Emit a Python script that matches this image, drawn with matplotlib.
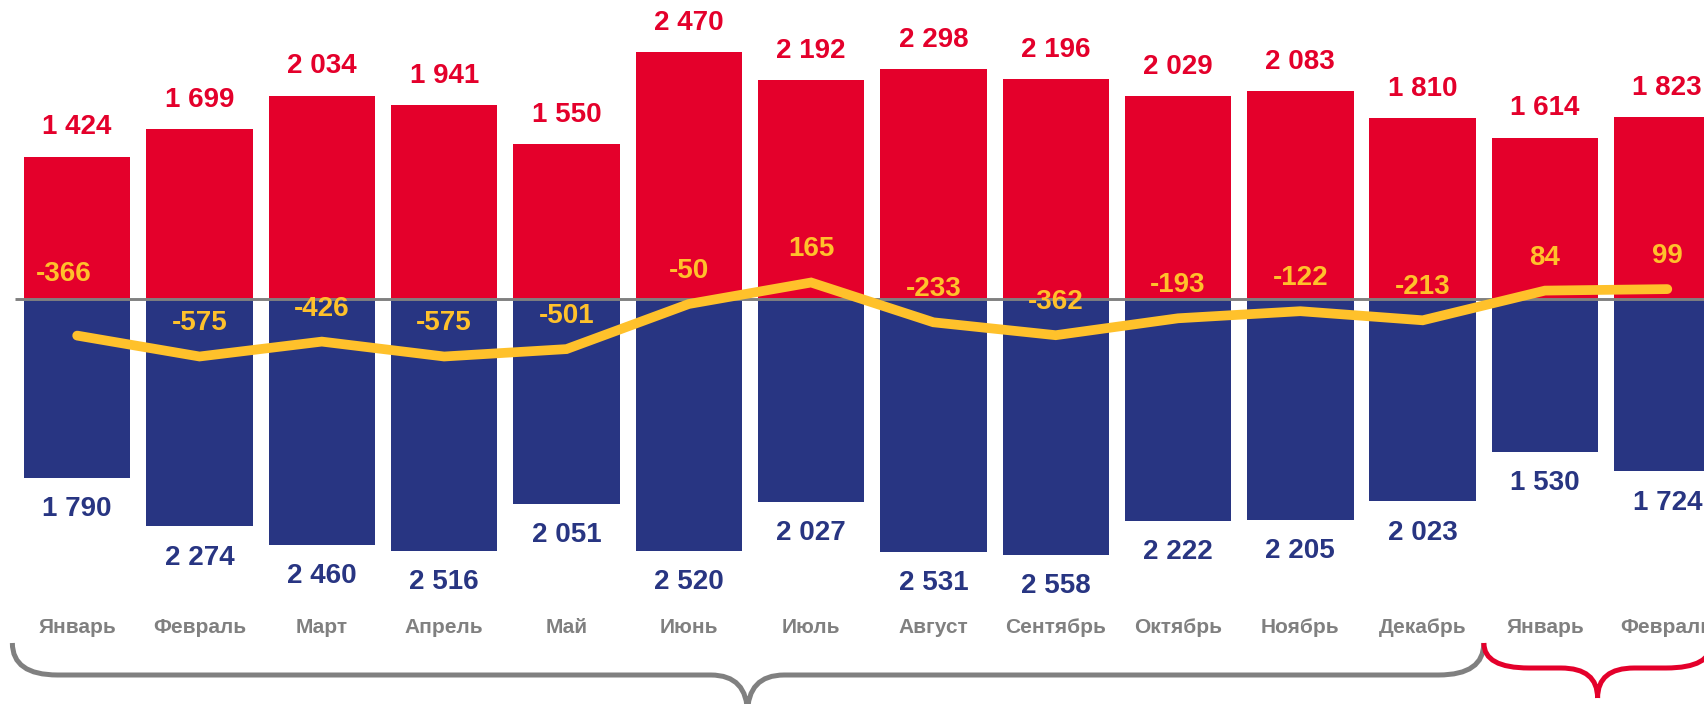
import numpy as np
from matplotlib import pyplot as plt
from matplotlib.path import Path
from matplotlib.patches import PathPatch
from matplotlib import transforms

plt.rcParams['font.family'] = ['Liberation Sans', 'DejaVu Sans']

# данные
месяцы = ['Январь', 'Февраль', 'Март', 'Апрель', 'Май', 'Июнь', 'Июль',
          'Август', 'Сентябрь', 'Октябрь', 'Ноябрь', 'Декабрь', 'Январь', 'Февраль']
экспорт = [1424, 1699, 2034, 1941, 1550, 2470, 2192, 2298, 2196, 2029, 2083, 1810, 1614, 1823]
импорт = [1790, 2274, 2460, 2516, 2051, 2520, 2027, 2531, 2558, 2222, 2205, 2023, 1530, 1724]
сальдо = [-366, -575, -426, -575, -501, -50, 165, -233, -362, -193, -122, -213, 84, 99]

RED = '#E4002B'
BLUE = '#283582'
YELLOW = '#FFC12B'
GREY = '#808080'

def fmt(v):
    return '{:,}'.format(v).replace(',', ' ')

fig = plt.figure(figsize=(17.04, 7.04), dpi=100)
ax = fig.add_axes([0, 0, 1, 1])
x = np.arange(len(месяцы))

ax.bar(x, экспорт, width=0.87, color=RED, zorder=1)
ax.bar(x, -np.array(импорт), width=0.87, color=BLUE, zorder=1)
ax.hlines(0, -0.505, 14, color=GREY, linewidth=2.1, zorder=2)
ax.plot(x, сальдо, color=YELLOW, linewidth=7, solid_capstyle='round',
        solid_joinstyle='miter', zorder=3)

# подписи
fs = 20
for i in range(len(x)):
    ax.annotate(fmt(экспорт[i]), (x[i], экспорт[i]), xytext=(0, 21),
                textcoords='offset points', ha='center', va='center',
                fontsize=fs, fontweight='bold', color=RED)
    ax.annotate(fmt(импорт[i]), (x[i], -импорт[i]), xytext=(0, -22.5),
                textcoords='offset points', ha='center', va='center',
                fontsize=fs, fontweight='bold', color=BLUE)
    off = (-10, 44.5) if i == 0 else (0, 23.8)
    ax.annotate(fmt(сальдо[i]), (x[i], сальдо[i]), xytext=off,
                textcoords='offset points', ha='center', va='center',
                fontsize=fs, fontweight='bold', color=YELLOW, zorder=4)

trans = transforms.blended_transform_factory(ax.transData, ax.transAxes)
for i, m in enumerate(месяцы):
    ax.text(x[i], 0.108, m, transform=trans, ha='center', va='center',
            fontsize=15, fontweight='bold', color=GREY)

# фигурные скобки
def brace(x0, x1, xm, yh, ytip, color):
    yt = -3440
    rx, rt = 0.37, 0.3
    verts = [(x0, yt), (x0, yh), (x0 + rx, yh), (xm - rt, yh), (xm, yh), (xm, ytip),
             (x1, yt), (x1, yh), (x1 - rx, yh), (xm + rt, yh), (xm, yh), (xm, ytip)]
    codes = [Path.MOVETO, Path.CURVE3, Path.CURVE3, Path.LINETO, Path.CURVE3, Path.CURVE3,
             Path.MOVETO, Path.CURVE3, Path.CURVE3, Path.LINETO, Path.CURVE3, Path.CURVE3]
    ax.add_patch(PathPatch(Path(verts, codes), facecolor='none', edgecolor=color,
                           linewidth=3.6, capstyle='butt', clip_on=False))

brace(-0.53, 11.5, 5.48, -3760, -4150, GREY)
brace(11.5, 13.36, 12.43, -3690, -3990, RED)

ax.set_xlim(-0.631, 13.30)
ax.set_ylim(-4050, 2990)
ax.axis('off')

plt.savefig('out.png', dpi=100)
